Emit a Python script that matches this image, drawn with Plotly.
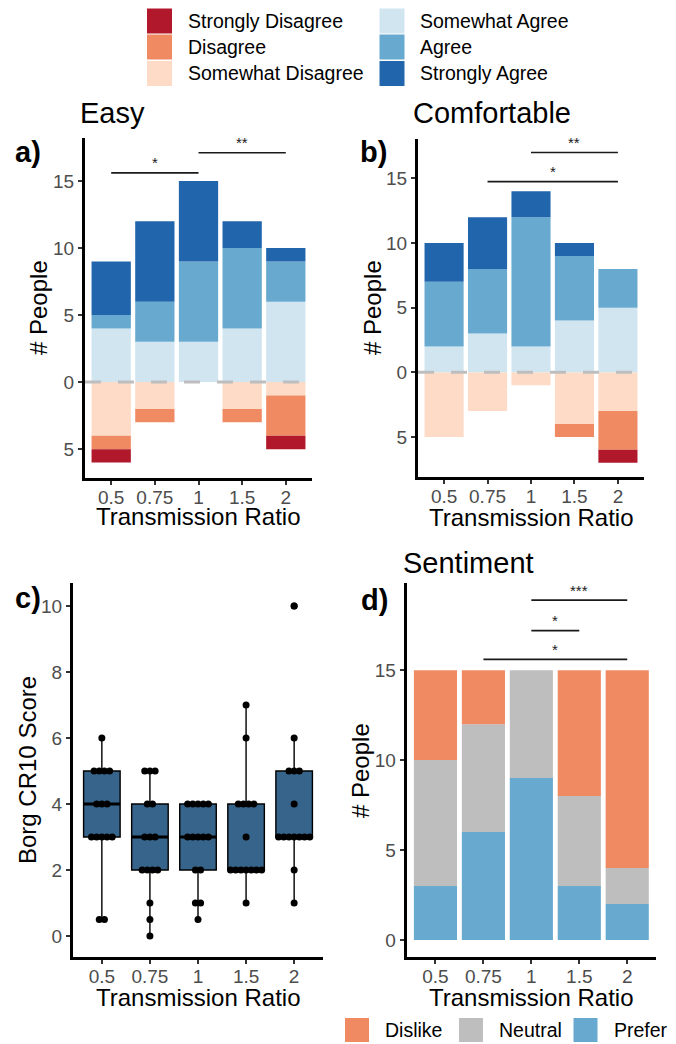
import numpy as np
import plotly.graph_objects as go

W, H = 676, 1044
FONT = "Liberation Sans, Arial, sans-serif"

# ---------------- data ----------------
ratios = ["0.5", "0.75", "1", "1.5", "2"]

likert_levels = ["Strongly Disagree", "Disagree", "Somewhat Disagree",
                 "Somewhat Agree", "Agree", "Strongly Agree"]
likert_colors = ["#b2182b", "#ef8a62", "#fddbc7", "#d1e5f0", "#67a9cf", "#2166ac"]

# "Easy" ratings, counts per transmission ratio
easy_strongly_disagree = [1, 0, 0, 0, 1]
easy_disagree = [1, 1, 0, 1, 3]
easy_somewhat_disagree = [4, 2, 0, 2, 1]
easy_somewhat_agree = [4, 3, 3, 4, 6]
easy_agree = [1, 3, 6, 6, 3]
easy_strongly_agree = [4, 6, 6, 2, 1]

# "Comfortable" ratings
comf_strongly_disagree = [0, 0, 0, 0, 1]
comf_disagree = [0, 0, 0, 1, 3]
comf_somewhat_disagree = [5, 3, 1, 4, 3]
comf_somewhat_agree = [2, 3, 2, 4, 5]
comf_agree = [5, 5, 10, 5, 3]
comf_strongly_agree = [3, 4, 2, 1, 0]

# Borg CR10 exertion scores (15 participants per ratio)
borg_05 = [6, 5, 5, 5, 5, 4, 4, 4, 3, 3, 3, 3, 3, 0.5, 0.5]
borg_075 = [5, 5, 5, 4, 4, 3, 3, 3, 2, 2, 2, 2, 1, 0.5, 0]
borg_1 = [4, 4, 4, 4, 4, 3, 3, 3, 3, 3, 2, 2, 1, 1, 0.5]
borg_15 = [7, 6, 4, 4, 4, 4, 3, 2, 2, 2, 2, 2, 2, 2, 1]
borg_2 = [10, 6, 5, 5, 5, 4, 3, 3, 3, 3, 3, 3, 3, 2, 1]

# Sentiment counts
sentiment_levels = ["Dislike", "Neutral", "Prefer"]
sentiment_colors = ["#ef8a62", "#bebebe", "#67a9cf"]
sent_prefer = [3, 6, 9, 3, 2]
sent_neutral = [7, 6, 6, 5, 2]
sent_dislike = [5, 3, 0, 7, 11]

# significance brackets: (from index, to index, height, label)
sig_easy = [(0, 2, 15.6, "*"), (2, 4, 17.1, "**")]
sig_comf = [(2, 4, 17.0, "**"), (1, 4, 14.75, "*")]
sig_sent = [(2, 4, 18.9, "***"), (2, 3, 17.2, "*"), (1, 4, 15.6, "*")]

BOX_FILL = "#36648B"

# ---------------- helpers ----------------
def px(x):
    return x / W


def py(y):
    return 1 - y / H


xs = list(range(len(ratios)))
fig = go.Figure()


def likert_traces(ax, ay, sd, d, swd, swa, a, sa):
    # negatives stacked outward from zero, then positives
    groups = [(swd, 2), (d, 1), (sd, 0), (swa, 3), (a, 4), (sa, 5)]
    for vals, li in groups:
        sign = -1 if li < 3 else 1
        fig.add_trace(go.Bar(
            x=xs, y=[sign * v for v in vals], width=0.9,
            marker=dict(color=likert_colors[li], line=dict(width=0)),
            name=likert_levels[li], showlegend=False,
            xaxis=ax, yaxis=ay, hoverinfo="skip"))


likert_traces("x", "y", easy_strongly_disagree, easy_disagree, easy_somewhat_disagree,
              easy_somewhat_agree, easy_agree, easy_strongly_agree)
likert_traces("x2", "y2", comf_strongly_disagree, comf_disagree, comf_somewhat_disagree,
              comf_somewhat_agree, comf_agree, comf_strongly_agree)

# sentiment stacks
for vals, lab in [(sent_prefer, "Prefer"), (sent_neutral, "Neutral"), (sent_dislike, "Dislike")]:
    fig.add_trace(go.Bar(
        x=xs, y=vals, width=0.9,
        marker=dict(color=sentiment_colors[sentiment_levels.index(lab)], line=dict(width=0)),
        name=lab, showlegend=False, xaxis="x4", yaxis="y4", hoverinfo="skip"))

# Borg boxplots with centred dot stacks
borg_groups = [borg_05, borg_075, borg_1, borg_15, borg_2]
box_x, box_y = [], []
for i, g in enumerate(borg_groups):
    box_x += [i] * len(g)
    box_y += g
fig.add_trace(go.Box(
    x=box_x, y=box_y, width=0.76, fillcolor=BOX_FILL,
    line=dict(color="black", width=1.4), whiskerwidth=0,
    boxpoints="outliers", pointpos=0, jitter=0, quartilemethod="inclusive",
    marker=dict(color="black", size=7), showlegend=False,
    xaxis="x3", yaxis="y3", hoverinfo="skip"))

# thick median bars
for i, g in enumerate(borg_groups):
    med = float(np.median(g))
    fig.add_trace(go.Scatter(
        x=[i - 0.38, i + 0.38], y=[med, med], mode="lines",
        line=dict(color="black", width=3), showlegend=False,
        xaxis="x3", yaxis="y3", hoverinfo="skip"))

DOT_STEP = 0.108
dot_x, dot_y = [], []
for i, g in enumerate(borg_groups):
    vals, counts = np.unique(g, return_counts=True)
    for v, n in zip(vals, counts):
        for k in range(n):
            dot_x.append(i + (k - (n - 1) / 2) * DOT_STEP)
            dot_y.append(float(v))
fig.add_trace(go.Scatter(
    x=dot_x, y=dot_y, mode="markers",
    marker=dict(color="black", size=7, line=dict(width=0)),
    showlegend=False, xaxis="x3", yaxis="y3", hoverinfo="skip"))

# ---------------- axes ----------------
panels = {
    "a": dict(dom=(85, 312, 138, 478), yr=[-7.15, 18.2],
              tv=[-5, 0, 5, 10, 15], tt=["5", "0", "5", "10", "15"]),
    "b": dict(dom=(418, 644, 139, 477), yr=[-8.1, 18.05],
              tv=[-5, 0, 5, 10, 15], tt=["5", "0", "5", "10", "15"]),
    "c": dict(dom=(73, 323, 583, 957), yr=[-0.64, 10.7],
              tv=[0, 2, 4, 6, 8, 10], tt=["0", "2", "4", "6", "8", "10"]),
    "d": dict(dom=(406.7, 656, 583, 957), yr=[-0.95, 19.85],
              tv=[0, 5, 10, 15], tt=["0", "5", "10", "15"]),
}
axis_common = dict(showline=True, linewidth=3, linecolor="black", showgrid=False,
                   zeroline=False, ticks="outside", ticklen=4, tickwidth=1.5,
                   tickcolor="#333333", tickfont=dict(family=FONT, size=19, color="#4d4d4d"),
                   fixedrange=True)
for k, (key, p) in enumerate(panels.items()):
    suf = "" if k == 0 else str(k + 1)
    x0, x1, yt, yb = p["dom"]
    fig.update_layout(**{
        f"xaxis{suf}": dict(domain=[px(x0), px(x1)], anchor=f"y{suf}", range=[-0.6, 4.6],
                            tickvals=xs, ticktext=ratios, ticklabelstandoff=-4,
                            **axis_common),
        f"yaxis{suf}": dict(domain=[py(yb), py(yt)], anchor=f"x{suf}", range=p["yr"],
                            tickvals=p["tv"], ticktext=p["tt"], **axis_common),
    })

shapes = []
annotations = []

# dashed zero lines on likert panels
for ax, ay in [("x", "y"), ("x2", "y2")]:
    shapes.append(dict(type="line", xref=f"{ax} domain", yref=ay, x0=0, x1=1, y0=0, y1=0,
                       line=dict(color="#bebebe", width=3, dash="16px,17px"), layer="above"))

# significance brackets
for sigs, ax, ay in [(sig_easy, "x", "y"), (sig_comf, "x2", "y2"), (sig_sent, "x4", "y4")]:
    for a, b, h, lab in sigs:
        shapes.append(dict(type="line", xref=ax, yref=ay, x0=a, x1=b, y0=h, y1=h,
                           line=dict(color="#1a1a1a", width=1.6)))
        annotations.append(dict(xref=ax, yref=ay, x=(a + b) / 2, y=h, text=lab, showarrow=False,
                                yanchor="middle", yshift=10,
                                font=dict(family=FONT, size=15, color="#1a1a1a")))


def text(x, y, s, size, bold=False, anchor="center", angle=0, color="black"):
    annotations.append(dict(xref="paper", yref="paper", x=px(x), y=py(y),
                            text=f"<b>{s}</b>" if bold else s, showarrow=False,
                            xanchor=anchor, yanchor="middle", textangle=angle,
                            font=dict(family=FONT, size=size, color=color)))


# panel titles and letters
text(78, 113, "Easy", 29, anchor="left")
text(411, 113, "Comfortable", 29, anchor="left")
text(401, 563, "Sentiment", 29, anchor="left")
text(13, 152, "a)", 29, bold=True, anchor="left")
text(358, 152, "b)", 29, bold=True, anchor="left")
text(13, 598, "c)", 29, bold=True, anchor="left")
text(359, 600, "d)", 29, bold=True, anchor="left")

# axis titles
for xc, yc in [(198.5, 516), (531, 517), (198, 997), (531.5, 997)]:
    text(xc, yc, "Transmission Ratio", 24)
text(38, 308, "# People", 24, angle=-90)
text(372, 308, "# People", 24, angle=-90)
text(27, 770, "Borg CR10 Score", 24, angle=-90)
text(360, 771, "# People", 24, angle=-90)

# top legend (two columns, three rows)
leg_cols = [(147, 186), (379.5, 418)]
leg_rows = [21, 47, 73.5]
for idx, lab in enumerate(likert_levels):
    col, row = divmod(idx, 3)
    sx, tx = leg_cols[col]
    cy = leg_rows[row]
    shapes.append(dict(type="rect", xref="paper", yref="paper",
                       x0=px(sx), x1=px(sx + 25), y0=py(cy + 12.5), y1=py(cy - 12.5),
                       fillcolor=likert_colors[idx], line=dict(width=0)))
    text(tx, cy, lab, 19.5, anchor="left")

# bottom legend for sentiment
bottom_keys = [(345, 383), (459, 497), (573.5, 612)]
for (sx, tx), lab, col in zip(bottom_keys, sentiment_levels, sentiment_colors):
    shapes.append(dict(type="rect", xref="paper", yref="paper",
                       x0=px(sx), x1=px(sx + 24), y0=py(1042), y1=py(1018),
                       fillcolor=col, line=dict(width=0)))
    text(tx, 1030, lab, 19.5, anchor="left")

fig.update_layout(
    width=W, height=H, margin=dict(l=0, r=0, t=0, b=0),
    paper_bgcolor="white", plot_bgcolor="white",
    barmode="relative", showlegend=False,
    shapes=shapes, annotations=annotations,
    font=dict(family=FONT),
)

fig.write_html("out.html")
